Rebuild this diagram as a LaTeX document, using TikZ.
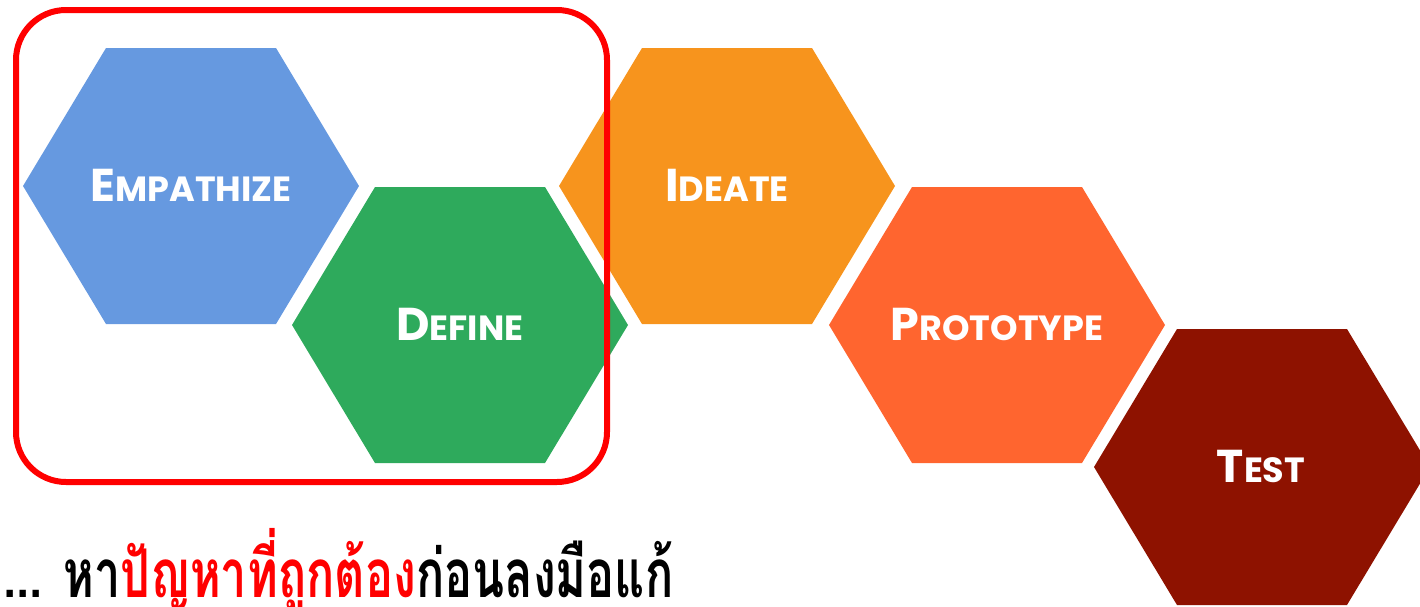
\documentclass[tikz,border=0pt]{standalone}
\usepackage{fontspec}
\setmainfont{Poppins}
\newfontfamily\thaifont[Script=Thai]{Loma}
\usetikzlibrary{positioning}
\definecolor{empblue}{HTML}{6699E0}
\definecolor{defgreen}{HTML}{2EAA5C}
\definecolor{ideorange}{HTML}{F7941D}
\definecolor{protorange}{HTML}{FF652F}
\definecolor{testred}{HTML}{8E1200}
\definecolor{boxred}{HTML}{FF0000}
\tikzset{hexlabel/.style={text=white, font=\bfseries, inner sep=0pt}}
\tikzset{framebox/.style={draw=boxred, line width=3pt, rounded corners=25pt}}
% fake small caps: big first letter, smaller rest
\newcommand{\bigsmall}[2]{{\fontsize{23}{23}\selectfont #1}{\fontsize{17.5}{17.5}\selectfont #2}}
% flat-topped hexagon around a centre
\newcommand{\hexfill}[3]{\fill[#3, shift={(#1,#2)}] (-168,0) -- (-85,138) -- (85,138) -- (168,0) -- (85,-138) -- (-85,-138) -- cycle;}

\begin{document}
\begin{tikzpicture}[x=0.5pt, y=-0.5pt]
    \useasboundingbox (0,0) rectangle (1420,606);
    \clip (0,0) rectangle (1420,606);

    % Hexagons
    \hexfill{191}{186}{empblue}
    \hexfill{460}{325}{defgreen}
    \hexfill{727}{186}{ideorange}
    \hexfill{997}{325}{protorange}
    \hexfill{1262}{467}{testred}

    % Labels
    \node[hexlabel] (empathize) at (191,185) {\bigsmall{E}{MPATHIZE}};
    \node[hexlabel] (define) at (460,324) {\bigsmall{D}{EFINE}};
    \node[hexlabel] (ideate) at (727,185) {\bigsmall{I}{DEATE}};
    \node[hexlabel] (prototype) at (997,324) {\bigsmall{P}{ROTOTYPE}};
    \node[hexlabel] (test) at (1261,466) {\bigsmall{T}{EST}};

    % Frame round the first two steps
    \draw[framebox] (16,10) rectangle (607,482);

    % Slogan
    \node[anchor=base west, inner sep=0pt, font=\thaifont\bfseries\fontsize{30}{30}\selectfont] (slogan) at (3,597)
        {\scalebox{0.78}[1.12]{... หา\textcolor{boxred}{ปัญหาที่ถูกต้อง}ก่อนลงมือแก้}};
\end{tikzpicture}
\end{document}
